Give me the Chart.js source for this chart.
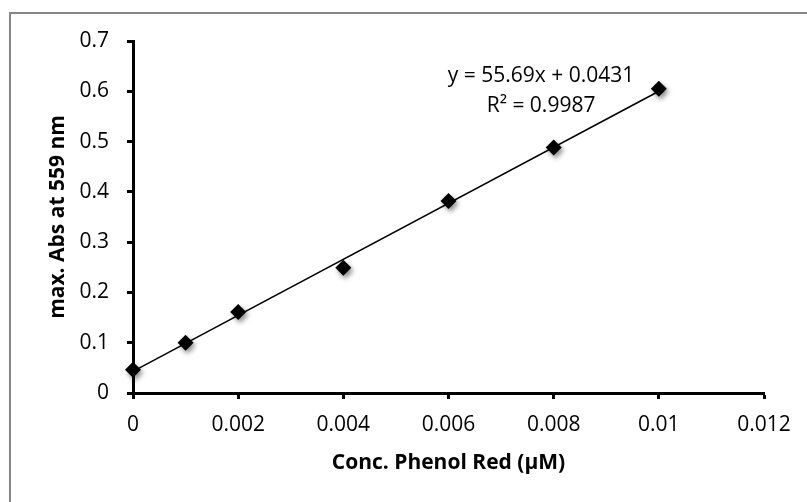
<!DOCTYPE html>
<html>
<head>
<meta charset="utf-8">
<script src="https://cdn.jsdelivr.net/npm/chart.js@4.4.1/dist/chart.umd.min.js"></script>
<style>
  html, body { margin: 0; padding: 0; background: #fff; }
  #c { display: block; }
</style>
</head>
<body>
<canvas id="c" width="807" height="502"></canvas>
<script>
// Calibration standards: phenol red concentration (µM) vs. max absorbance at 559 nm
const concentrations = [0, 0.001, 0.002, 0.004, 0.006, 0.008, 0.01];
const absorbance = [0.046, 0.100, 0.161, 0.249, 0.382, 0.488, 0.605];

// Axis ticks
const xTickValues = [0, 0.002, 0.004, 0.006, 0.008, 0.010, 0.012];
const xTickLabels = ['0', '0.002', '0.004', '0.006', '0.008', '0.01', '0.012'];
const yTickValues = [0, 0.1, 0.2, 0.3, 0.4, 0.5, 0.6, 0.7];
const yTickLabels = ['0', '0.1', '0.2', '0.3', '0.4', '0.5', '0.6', '0.7'];

// Linear least-squares fit
const fitSlope = 55.69;
const fitIntercept = 0.0431;
const fitLabels = ['y = 55.69x + 0.0431', 'R\u00B2 = 0.9987'];
const fitRange = [0, 0.01];

const FONT = "'Open Sans', 'DejaVu Sans', sans-serif";

const points = concentrations.map((x, i) => ({ x, y: absorbance[i] }));
const fitLine = fitRange.map(x => ({ x, y: fitSlope * x + fitIntercept }));

// Gray outline around the chart object
const frame = {
  id: 'frame',
  beforeDraw(chart) {
    const ctx = chart.ctx;
    ctx.save();
    ctx.fillStyle = '#fff';
    ctx.fillRect(0, 0, chart.width, chart.height);
    ctx.strokeStyle = '#868686';
    ctx.lineWidth = 2;
    ctx.strokeRect(10, 13, chart.width + 20, chart.height + 20);
    ctx.restore();
  }
};

// Soft drop shadow under the markers
const markerShadow = {
  id: 'markerShadow',
  beforeDatasetDraw(chart, args) {
    if (args.index !== 0) return;
    const ctx = chart.ctx;
    ctx.save();
    ctx.shadowColor = 'rgba(0,0,0,0.45)';
    ctx.shadowBlur = 5;
    ctx.shadowOffsetX = 2;
    ctx.shadowOffsetY = 3;
  },
  afterDatasetDraw(chart, args) {
    if (args.index !== 0) return;
    chart.ctx.restore();
  }
};

// Equation and R² of the fit, anchored in data space
const fitLabelAnchor = { x: 0.00776, y: 0.63 };
const fitLabel = {
  id: 'fitLabel',
  afterDatasetsDraw(chart) {
    const { ctx, scales } = chart;
    const cx = scales.x.getPixelForValue(fitLabelAnchor.x);
    const cy = scales.y.getPixelForValue(fitLabelAnchor.y);
    ctx.save();
    ctx.font = `21px ${FONT}`;
    ctx.fillStyle = '#000';
    ctx.textAlign = 'center';
    ctx.textBaseline = 'middle';
    fitLabels.forEach((t, i) => ctx.fillText(t, cx, cy + i * 30));
    ctx.restore();
  }
};

const axisCommon = {
  type: 'linear',
  border: { display: true, color: '#000', width: 3 },
  grid: {
    drawOnChartArea: false,
    drawTicks: true,
    tickLength: 6,
    tickWidth: 3,
    tickColor: '#000'
  }
};

new Chart(document.getElementById('c'), {
  type: 'scatter',
  data: {
    datasets: [
      {
        label: 'Standards',
        data: points,
        pointStyle: 'rectRot',
        pointRadius: 8,
        pointHoverRadius: 8,
        backgroundColor: '#000',
        borderColor: '#000',
        borderWidth: 0,
        showLine: false,
        clip: false,
        order: 2
      },
      {
        label: 'Linear fit',
        type: 'line',
        data: fitLine,
        borderColor: '#000',
        borderWidth: 1.5,
        pointRadius: 0,
        fill: false,
        clip: false,
        order: 1
      }
    ]
  },
  options: {
    responsive: false,
    animation: false,
    devicePixelRatio: 1,
    layout: { padding: { left: 0, top: 41, right: 43, bottom: 0 } },
    plugins: {
      legend: { display: false },
      tooltip: { enabled: false }
    },
    scales: {
      x: {
        ...axisCommon,
        position: 'bottom',
        min: 0,
        max: 0.012,
        afterBuildTicks(scale) { scale.ticks = xTickValues.map(value => ({ value })); },
        afterFit(scale) { scale.height = 109; },
        ticks: {
          font: { family: FONT, size: 21 },
          color: '#000',
          padding: 13,
          maxRotation: 0,
          autoSkip: false,
          callback: (v, i) => xTickLabels[i]
        },
        title: {
          display: true,
          text: 'Conc. Phenol Red (\u00B5M)',
          font: { family: FONT, size: 21, weight: 'bold' },
          color: '#000',
          padding: { top: 0, bottom: 26 }
        }
      },
      y: {
        ...axisCommon,
        position: 'left',
        min: 0,
        max: 0.7,
        afterBuildTicks(scale) { scale.ticks = yTickValues.map(value => ({ value })); },
        afterFit(scale) { scale.width = 133; },
        ticks: {
          font: { family: FONT, size: 21 },
          color: '#000',
          padding: 18,
          autoSkip: false,
          callback: (v, i) => yTickLabels[i]
        },
        title: {
          display: true,
          text: 'max. Abs at 559 nm',
          font: { family: FONT, size: 21, weight: 'bold' },
          color: '#000',
          padding: { top: 45, bottom: 0 }
        }
      }
    }
  },
  plugins: [frame, markerShadow, fitLabel]
});
</script>
</body>
</html>
